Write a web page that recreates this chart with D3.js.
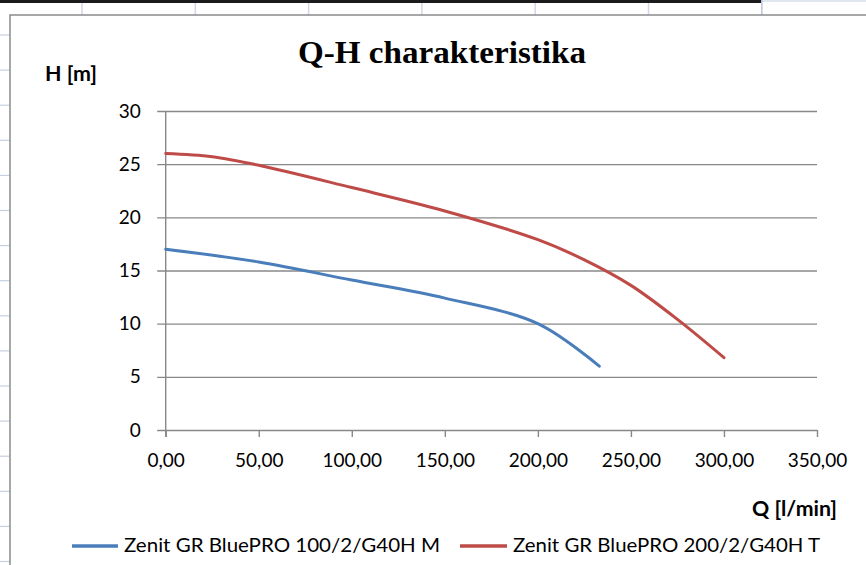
<!DOCTYPE html>
<html>
<head>
<meta charset="utf-8">
<script src="https://cdn.jsdelivr.net/npm/d3@7"></script>
<style>
  body { margin: 0; background: #fff; }
  svg { display: block; }
  .tick text { font-family: Lato, "Open Sans", sans-serif; font-size: 19px; fill: #000; }
  .axis-label { font-family: Lato, sans-serif; font-size: 21px; font-weight: bold; fill: #000; }
  .legend text { font-family: Lato, sans-serif; font-size: 20px; fill: #000; }
  .title { font-family: "Liberation Serif", "Times New Roman", serif; font-size: 32px; font-weight: bold; fill: #000; }
</style>
</head>
<body>
<svg width="866" height="565"></svg>
<script>
// Q [l/min] and H [m]
const seriesNames = ['Zenit GR BluePRO 100/2/G40H M', 'Zenit GR BluePRO 200/2/G40H T'];
const seriesColors = ['#4a7ebb', '#be4b48'];
const blueQ = [0, 50, 100, 150, 200, 233];
const blueH = [17, 15.8, 14.1, 12.4, 10.0, 6.0];
const redQ = [0, 25, 50, 100, 150, 200, 225, 250, 275, 300];
const redH = [26, 25.7, 24.9, 22.8, 20.6, 17.9, 16.0, 13.6, 10.4, 6.8];
const xTicks = [0, 50, 100, 150, 200, 250, 300, 350];
const yTicks = [0, 5, 10, 15, 20, 25, 30];

function whenLoaded(){

    const svg = d3.select('svg');
    const width = +svg.attr('width');
    const height = +svg.attr('height');

    // spreadsheet behind the chart
    const sheet = svg.append('g');
    sheet.append('rect').attr('x',0).attr('y',0).attr('width',761).attr('height',3).attr('fill','#1a1a1a');
    sheet.append('rect').attr('x',762).attr('y',0).attr('width',width-762).attr('height',2).attr('fill','#dfe6f0');
    for (let x = 82; x < width; x += 113.3) {
        sheet.append('line')
        .attr('x1',x).attr('x2',x).attr('y1',x > 760 ? 0 : 3).attr('y2',15)
        .attr('stroke', x > 760 ? '#b9c5d8' : '#d0d7e5').attr('stroke-width',1.5);
    }
    for (let y = 35; y < height; y += 35.1) {
        sheet.append('line')
        .attr('x1',0).attr('x2',10).attr('y1',y).attr('y2',y)
        .attr('stroke','#c6d0e0').attr('stroke-width',1.2);
    }

    // chart area
    svg.append('rect')
    .attr('x',10).attr('y',15)
    .attr('width',width).attr('height',height)
    .attr('fill','#fff')
    .attr('stroke','#8a8a8a')
    .attr('stroke-width',1.5);

    const plot = {left:165.7, right:817, top:111, bottom:430};

    const xScale = d3.scaleLinear()
    .domain([0,350])
    .range([plot.left,plot.right]);

    const yScale = d3.scaleLinear()
    .domain([0,30])
    .range([plot.bottom,plot.top]);

    const g = svg.append('g');

    // y axis with gridlines
    const yAxis = d3.axisLeft(yScale)
    .tickValues(yTicks)
    .tickSize(-(plot.right-plot.left))
    .tickPadding(25)
    .tickFormat(d3.format('d'));

    const yAxisG = g.append('g')
    .attr('transform',`translate(${plot.left},0)`)
    .call(yAxis);
    yAxisG.select('.domain').remove();
    yAxisG.selectAll('.tick line')
    .attr('x1',-8.5)
    .attr('stroke','#888')
    .attr('stroke-width',1.4);

    // x axis
    const xAxis = d3.axisBottom(xScale)
    .tickValues(xTicks)
    .tickSize(7)
    .tickPadding(17)
    .tickFormat(d => d3.format('.2f')(d).replace('.',','));

    const xAxisG = g.append('g')
    .attr('transform',`translate(0,${plot.bottom})`)
    .call(xAxis);
    xAxisG.select('.domain').remove();
    xAxisG.selectAll('.tick line')
    .attr('stroke','#888')
    .attr('stroke-width',1.4);

    g.append('line')
    .attr('x1',plot.left).attr('x2',plot.left)
    .attr('y1',yScale(30)).attr('y2',yScale(0)+7)
    .attr('stroke','#888')
    .attr('stroke-width',1.4);

    // curves
    const lineGenerator = d3.line()
    .x(d => xScale(d.q))
    .y(d => yScale(d.h))
    .curve(d3.curveCatmullRom);

    const series = [
        blueQ.map((q,i) => ({q, h: blueH[i]})),
        redQ.map((q,i) => ({q, h: redH[i]}))
    ];

    series.forEach((s,i) => {
        g.append('path')
        .attr('d',lineGenerator(s))
        .attr('fill','none')
        .attr('stroke',seriesColors[i])
        .attr('stroke-width',3)
        .attr('stroke-linecap','round');
    });

    // title & axis labels
    svg.append('text')
    .attr('class','title')
    .attr('x',298).attr('y',63)
    .attr('textLength',288)
    .attr('lengthAdjust','spacingAndGlyphs')
    .text('Q-H charakteristika');

    svg.append('text')
    .attr('class','axis-label')
    .attr('x',45).attr('y',81)
    .attr('textLength',52)
    .attr('lengthAdjust','spacingAndGlyphs')
    .text('H [m]');

    svg.append('text')
    .attr('class','axis-label')
    .attr('x',752).attr('y',516)
    .attr('textLength',85)
    .attr('lengthAdjust','spacingAndGlyphs')
    .text('Q [l/min]');

    // legend
    const legend = svg.append('g').attr('class','legend');
    const legendX = [[72,118,124,316],[460,507,513,307]];
    seriesNames.forEach((name,i) => {
        const [x1,x2,tx,tl] = legendX[i];
        legend.append('line')
        .attr('x1',x1).attr('x2',x2).attr('y1',546).attr('y2',546)
        .attr('stroke',seriesColors[i])
        .attr('stroke-width',3.5);
        legend.append('text')
        .attr('x',tx).attr('y',552)
        .attr('textLength',tl)
        .attr('lengthAdjust','spacingAndGlyphs')
        .text(name);
    });
}

window.onload = whenLoaded;
</script>
</body>
</html>
